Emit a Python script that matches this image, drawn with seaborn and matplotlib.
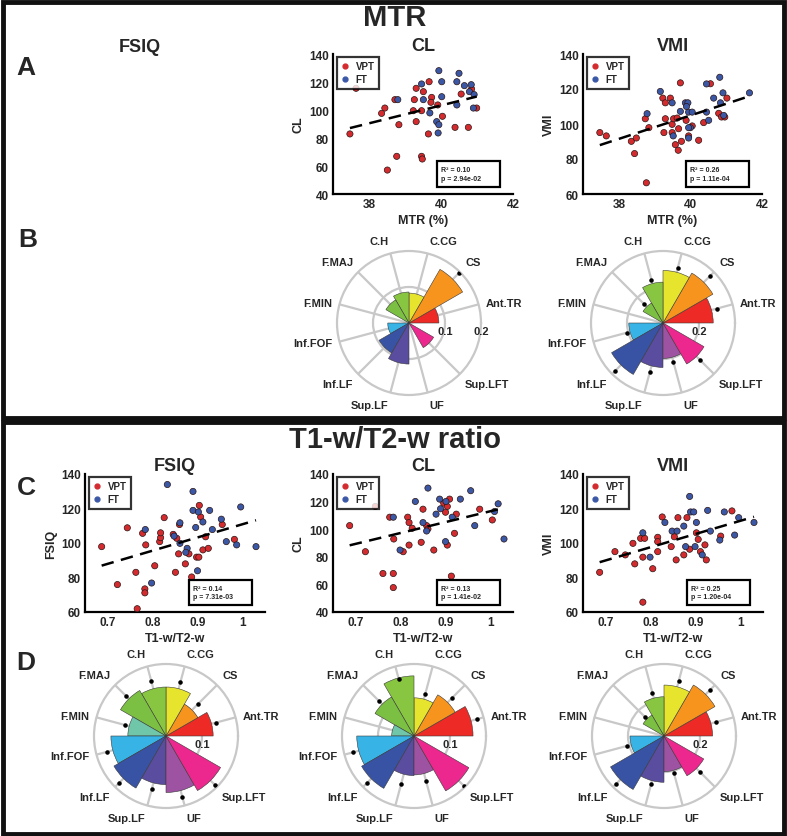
import numpy as np
import pandas as pd
import seaborn as sns
import matplotlib.pyplot as plt
from matplotlib.lines import Line2D
from matplotlib.patches import Rectangle

# ---- scatter data ----
# MTR vs CL
cl_mtr_vpt_x = [37.64, 37.47, 38.44, 38.35, 38.72, 38.83, 38.77, 38.51, 39.23, 39.26, 39.31, 39.31, 39.51, 39.67,
                39.46, 39.74, 39.72, 39.91, 39.65, 40.04, 39.46, 39.48, 40.39, 40.56, 40.76, 40.99, 40.85]
cl_mtr_vpt_y = [115.5, 82.9, 101.4, 97.6, 107.4, 89.5, 66.9, 57.1, 99.5, 107.4, 115.5, 91.7, 113.1, 120.2,
                99.5, 109.0, 105.5, 103.6, 82.9, 95.5, 66.9, 65.0, 87.6, 111.4, 87.6, 101.4, 115.0]
cl_mtr_ft_x = [38.80, 39.46, 39.51, 39.69, 39.94, 40.02, 40.02, 39.88, 39.94, 39.92, 40.44, 40.50, 40.44, 40.65,
               40.79, 40.84, 40.92, 40.90]
cl_mtr_ft_y = [107.4, 118.6, 107.4, 97.9, 128.1, 120.2, 109.5, 91.7, 89.5, 83.6, 120.2, 126.2, 103.6, 117.4,
               113.1, 118.1, 111.0, 101.4]

# MTR vs VMI
vmi_mtr_vpt_x = [37.47, 37.65, 38.35, 38.44, 38.49, 38.74, 38.84, 38.77, 39.23, 39.30, 39.30, 39.26, 39.44, 39.49,
                 39.49, 39.53, 39.72, 39.63, 39.67, 39.75, 39.58, 39.66, 39.88, 39.95, 40.05, 40.23, 40.37, 40.56,
                 40.79, 40.87, 40.96, 41.02]
vmi_mtr_vpt_y = [95.1, 93.2, 90.1, 83.1, 92.0, 103.0, 97.9, 66.4, 114.8, 112.1, 103.0, 95.1, 114.8, 99.8,
                 95.1, 103.0, 123.5, 103.4, 97.3, 90.1, 88.2, 85.0, 102.1, 93.2, 98.9, 90.7, 100.8, 123.0,
                 106.1, 104.0, 104.0, 114.8]
vmi_mtr_ft_x = [39.16, 38.79, 39.49, 39.52, 39.86, 39.93, 39.95, 39.89, 40.05, 40.00, 39.95, 39.95, 39.72, 40.45,
                40.45, 40.51, 40.65, 40.82, 40.84, 40.91, 40.93, 41.65]
vmi_mtr_ft_y = [118.6, 105.9, 112.1, 93.2, 112.1, 112.1, 106.8, 110.0, 106.8, 97.9, 97.9, 92.0, 107.2, 122.9,
                106.8, 102.1, 114.8, 126.7, 112.1, 117.8, 104.9, 117.8]

# T1-w/T2-w vs FSIQ
fsiq_t_vpt_x = [0.687, 0.722, 0.744, 0.763, 0.766, 0.778, 0.783, 0.783, 0.785, 0.805, 0.816, 0.818, 0.818, 0.826,
                0.846, 0.854, 0.851, 0.858, 0.860, 0.873, 0.881, 0.887, 0.898, 0.903, 0.904, 0.907, 0.918, 0.912,
                0.924, 0.955, 0.982]
fsiq_t_vpt_y = [97.9, 75.9, 108.8, 83.0, 61.9, 105.6, 73.4, 71.1, 98.9, 86.8, 100.8, 103.1, 105.9, 114.7,
                105.0, 102.7, 83.0, 93.7, 110.7, 87.9, 93.7, 80.3, 91.8, 91.8, 121.8, 115.1, 103.6, 96.0,
                96.9, 110.7, 102.1]
fsiq_t_ft_x = [0.833, 0.784, 0.798, 0.848, 0.861, 0.861, 0.877, 0.874, 0.890, 0.890, 0.896, 0.902, 0.912, 0.900,
               0.927, 0.933, 0.953, 0.964, 0.996, 0.987, 1.030]
fsiq_t_ft_y = [133.9, 107.8, 76.8, 104.0, 111.7, 99.8, 96.9, 94.6, 129.9, 118.9, 109.0, 118.0, 112.2, 83.9,
               118.9, 107.8, 113.8, 100.8, 120.9, 98.9, 97.9]

# T1-w/T2-w vs CL
cl_t_vpt_x = [0.687, 0.722, 0.744, 0.776, 0.785, 0.761, 0.784, 0.784, 0.806, 0.816, 0.819, 0.826, 0.819, 0.846,
              0.850, 0.858, 0.861, 0.874, 0.896, 0.904, 0.900, 0.904, 0.909, 0.920, 0.924, 0.913, 0.976, 1.004]
cl_t_vpt_y = [102.6, 83.7, 116.5, 108.7, 92.9, 67.9, 67.9, 57.7, 83.7, 108.7, 104.8, 100.7, 88.5, 90.5,
              114.5, 102.6, 100.2, 84.9, 118.9, 116.5, 112.3, 88.5, 121.8, 97.0, 110.9, 66.0, 114.5, 106.7]
cl_t_ft_x = [0.784, 0.799, 0.833, 0.850, 0.858, 0.861, 0.879, 0.887, 0.889, 0.901, 0.900, 0.915, 0.933, 0.956,
             0.965, 1.009, 1.017, 1.030]
cl_t_ft_y = [108.7, 84.9, 120.1, 104.8, 98.7, 129.8, 110.9, 121.8, 114.8, 120.1, 91.0, 108.7, 121.8, 127.9,
             102.6, 112.8, 118.4, 92.9]

# T1-w/T2-w vs VMI
vmi_t_vpt_x = [0.687, 0.721, 0.744, 0.761, 0.765, 0.778, 0.787, 0.783, 0.783, 0.805, 0.816, 0.816, 0.826, 0.816,
               0.846, 0.853, 0.857, 0.861, 0.874, 0.881, 0.887, 0.902, 0.906, 0.911, 0.921, 0.924, 0.956, 0.981]
vmi_t_vpt_y = [83.0, 95.0, 93.1, 99.8, 87.9, 102.7, 102.7, 91.8, 65.7, 85.1, 103.3, 95.0, 115.1, 100.8,
               97.9, 103.6, 90.2, 114.7, 93.1, 114.7, 96.4, 105.9, 102.1, 95.0, 98.9, 90.2, 104.0, 118.6]
vmi_t_ft_x = [0.783, 0.799, 0.832, 0.848, 0.859, 0.874, 0.878, 0.887, 0.889, 0.896, 0.899, 0.902, 0.915, 0.927,
              0.933, 0.954, 0.964, 0.987, 0.996, 1.030]
vmi_t_ft_y = [105.9, 91.8, 111.9, 106.9, 106.9, 109.8, 97.9, 127.0, 118.0, 118.0, 97.9, 111.9, 93.1, 118.9,
              106.9, 101.7, 118.0, 104.6, 114.7, 111.9]

stats_cl_mtr = ("0.10", "2.94e-02")
stats_vmi_mtr = ("0.26", "1.11e-04")
stats_fsiq_t = ("0.14", "7.31e-03")
stats_cl_t = ("0.13", "1.41e-02")
stats_vmi_t = ("0.25", "1.20e-04")

# ---- rose plot data (tract sectors, counter-clockwise from 0 deg) ----
tracts = ["Ant.TR", "CS", "C.CG", "C.H", "F.MAJ", "F.MIN", "Inf.FOF", "Inf.LF", "Sup.LF", "UF", "Sup.LFT"]
tract_colors = ["#ED2A25", "#F7941E", "#E6E42C", "#88C541", "#7CC043", "#6FC6A8", "#37B3E5",
                "#3853A4", "#5A4C9F", "#9D53A1", "#EC288E"]
nan = np.nan
rose_b_cl = [0.083, 0.172, 0.083, 0.086, 0.074, 0.0, 0.059, 0.096, 0.114, 0.0, 0.079]
dots_b_cl = [nan, 0.195, nan, nan, nan, nan, nan, nan, nan, nan, nan]
rose_b_vmi = [0.279, 0.32, 0.292, 0.227, 0.128, 0.0, 0.19, 0.33, 0.247, 0.197, 0.263]
dots_b_vmi = [0.31, 0.37, 0.319, 0.25, 0.15, nan, 0.207, 0.38, 0.283, 0.225, 0.29]
rose_d_fsiq = [0.131, 0.102, 0.136, 0.136, 0.146, 0.106, 0.153, 0.167, 0.135, 0.157, 0.175]
dots_d_fsiq = [0.144, 0.124, 0.155, 0.158, 0.156, 0.119, 0.17, 0.186, 0.153, 0.174, 0.194]
rose_d_cl = [0.164, 0.132, 0.106, 0.167, 0.125, 0.062, 0.159, 0.168, 0.11, 0.108, 0.176]
dots_d_cl = [0.182, 0.149, 0.121, 0.165, 0.139, nan, 0.176, 0.185, 0.139, 0.129, 0.196]
rose_d_vmi = [0.27, 0.327, 0.283, 0.218, 0.134, 0.0, 0.189, 0.343, 0.257, 0.198, 0.255]
dots_d_vmi = [0.298, 0.365, 0.317, 0.25, 0.149, nan, 0.21, 0.374, 0.277, 0.211, 0.279]

sns.set_style("white")
plt.rcParams["font.family"] = ["Liberation Sans", "DejaVu Sans"]
plt.rcParams["font.weight"] = "bold"
plt.rcParams["axes.labelweight"] = "bold"
plt.rcParams["axes.titleweight"] = "bold"

W, H = 787, 837
fig = plt.figure(figsize=(W / 100, H / 100), dpi=100)


def px_box(x0, y0, x1, y1):
    return [x0 / W, 1 - y1 / H, (x1 - x0) / W, (y1 - y0) / H]


pal = {"VPT": "#D42B2F", "FT": "#3B58A7"}


def scatter_panel(box, vx, vy, fx, fy, xlim, xticks, xticklabels, ylim, xlabel, ylabel, title, stats):
    ax = fig.add_axes(px_box(*box))
    df = pd.DataFrame({"x": vx + fx, "y": vy + fy,
                       "group": ["VPT"] * len(vx) + ["FT"] * len(fx)})
    sns.scatterplot(data=df, x="x", y="y", hue="group", palette=pal, s=20,
                    edgecolor="#2a1515", linewidth=0.5, legend=False, ax=ax, zorder=3)
    sns.regplot(data=df, x="x", y="y", scatter=False, ci=None, ax=ax,
                line_kws=dict(color="black", lw=1.8, ls=(0, (5, 3)), zorder=4))
    ax.set_xlim(*xlim)
    ax.set_ylim(*ylim)
    ax.set_xticks(xticks)
    ax.set_xticklabels(xticklabels)
    ax.set_yticks(np.arange(ylim[0], ylim[1] + 1, 20))
    ax.set_xlabel(xlabel, fontsize=9, labelpad=3)
    ax.set_ylabel(ylabel, fontsize=9, labelpad=3)
    ax.set_title(title, fontsize=13, pad=3)
    ax.tick_params(direction="in", length=3, width=1, labelsize=8.5, pad=3)
    for s in ["top", "right"]:
        ax.spines[s].set_visible(False)
    for s in ["left", "bottom"]:
        ax.spines[s].set_linewidth(1.6)
        ax.spines[s].set_color("black")
    handles = [Line2D([], [], marker="o", ls="", color=pal[g], markersize=3.5) for g in ["VPT", "FT"]]
    leg = ax.legend(handles, ["VPT", "FT"], loc="upper left", bbox_to_anchor=(0.015, 0.985),
                    frameon=True, fancybox=False, edgecolor="black", fontsize=7,
                    handlelength=0.8, handletextpad=0.7, borderpad=0.45, labelspacing=0.3,
                    borderaxespad=0.1)
    leg.get_frame().set_linewidth(1.6)
    ax.add_patch(Rectangle((0.575, 0.05), 0.355, 0.185, transform=ax.transAxes, fill=True,
                           facecolor="white", edgecolor="black", lw=1.6, zorder=5))
    ax.text(0.6, 0.1425, f"R\u00b2 = {stats[0]}\np = {stats[1]}", transform=ax.transAxes,
            fontsize=5, va="center", ha="left", zorder=6, linespacing=1.3)
    return ax


theta = np.deg2rad(15 + 30 * np.arange(len(tracts)))


def rose_panel(cx, cy, bars, dots, rmax, rlabels):
    r = 72
    ax = fig.add_axes(px_box(cx - r, cy - r, cx + r, cy + r), projection="polar")
    ax.bar(theta, bars, width=np.deg2rad(30), color=tract_colors, edgecolor="#3a3a3a",
           linewidth=0.4, zorder=2)
    ax.scatter(theta, dots, s=5, color="black", zorder=3)
    ax.set_ylim(0, rmax)
    ax.set_xticks(theta)
    ax.set_xticklabels([])
    ax.set_yticks([rmax / 2])
    ax.set_yticklabels([])
    ax.set_axisbelow(True)
    ax.grid(color="#c8c8c8", lw=1.6)
    ax.spines["polar"].set_color("#c8c8c8")
    ax.spines["polar"].set_linewidth(1.6)
    ax.set_facecolor("white")
    for t, name in zip(theta, tracts):
        c, s = np.cos(t), np.sin(t)
        ha = "left" if c > 0.2 else ("right" if c < -0.2 else "center")
        va = "bottom" if s > 0.3 else ("top" if s < -0.3 else "center")
        ax.text(t, rmax * 1.1, name, ha=ha, va=va, fontsize=8)
    for rv, lab in rlabels:
        ax.annotate(lab, xy=(0, rv), xytext=(0, -2), textcoords="offset points",
                    ha="center", va="top", fontsize=8)
    return ax


# ---- top section: MTR ----
scatter_panel((333, 55, 513, 195), cl_mtr_vpt_x, cl_mtr_vpt_y, cl_mtr_ft_x, cl_mtr_ft_y,
              (37, 42), [38, 40, 42], ["38", "40", "42"], (40, 140), "MTR (%)", "CL", "CL", stats_cl_mtr)
scatter_panel((583, 55, 762, 195), vmi_mtr_vpt_x, vmi_mtr_vpt_y, vmi_mtr_ft_x, vmi_mtr_ft_y,
              (37, 42), [38, 40, 42], ["38", "40", "42"], (60, 140), "MTR (%)", "VMI", "VMI", stats_vmi_mtr)
rose_panel(409, 324, rose_b_cl, dots_b_cl, 0.2, [(0.1, "0.1"), (0.2, "0.2")])
rose_panel(663, 324, rose_b_vmi, dots_b_vmi, 0.4, [(0.2, "0.2")])

# ---- bottom section: T1-w/T2-w ratio ----
t_ticks = [0.7, 0.8, 0.9, 1.0]
t_labels = ["0.7", "0.8", "0.9", "1"]
scatter_panel((85, 475, 265, 613), fsiq_t_vpt_x, fsiq_t_vpt_y, fsiq_t_ft_x, fsiq_t_ft_y,
              (0.65, 1.05), t_ticks, t_labels, (60, 140), "T1-w/T2-w", "FSIQ", "FSIQ", stats_fsiq_t)
scatter_panel((333, 475, 513, 613), cl_t_vpt_x, cl_t_vpt_y, cl_t_ft_x, cl_t_ft_y,
              (0.65, 1.05), t_ticks, t_labels, (40, 140), "T1-w/T2-w", "CL", "CL", stats_cl_t)
scatter_panel((583, 475, 763, 613), vmi_t_vpt_x, vmi_t_vpt_y, vmi_t_ft_x, vmi_t_ft_y,
              (0.65, 1.05), t_ticks, t_labels, (60, 140), "T1-w/T2-w", "VMI", "VMI", stats_vmi_t)
rose_panel(166, 737, rose_d_fsiq, dots_d_fsiq, 0.2, [(0.1, "0.1")])
rose_panel(414, 737, rose_d_cl, dots_d_cl, 0.2, [(0.1, "0.1")])
rose_panel(664, 737, rose_d_vmi, dots_d_vmi, 0.4, [(0.2, "0.2")])

# ---- section titles, panel letters, frames ----
fig.text(395 / W, 1 - 18 / H, "MTR", ha="center", va="center", fontsize=21)
fig.text(395 / W, 1 - 440 / H, "T1-w/T2-w ratio", ha="center", va="center", fontsize=21)
fig.text(140 / W, 1 - 47 / H, "FSIQ", ha="center", va="center", fontsize=13)
for letter, (lx, ly) in zip("ABCD", [(26, 68), (28, 240), (26, 488), (26, 663)]):
    fig.text(lx / W, 1 - ly / H, letter, ha="center", va="center", fontsize=19)

fig.add_artist(Rectangle((2.5 / W, 1 - 419 / H), 781.5 / W, 416.5 / H, transform=fig.transFigure,
                         fill=False, edgecolor="#111111", lw=3.5))
fig.add_artist(Rectangle((2.5 / W, 2.5 / H), 781.5 / W, (837 - 423 - 2.5) / H, transform=fig.transFigure,
                         fill=False, edgecolor="#111111", lw=3.5))

fig.savefig("out.png", dpi=100)
